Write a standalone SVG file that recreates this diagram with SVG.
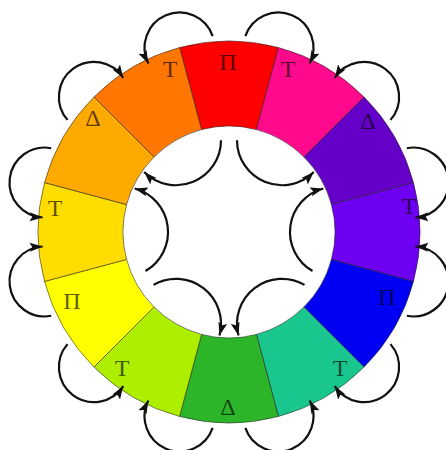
<svg xmlns="http://www.w3.org/2000/svg" width="446" height="450" viewBox="0 0 446 450">
<defs>
<style>
.seg{stroke:#222;stroke-opacity:0.7;stroke-width:0.8}
.arr{fill:none;stroke:#111;stroke-width:2.2;marker-end:url(#ah)}
.lbl{font-family:"Liberation Serif","DejaVu Serif",serif;font-size:24px;fill:#000;fill-opacity:0.65;text-anchor:middle;dominant-baseline:central}
</style>
<marker id="ah" markerUnits="userSpaceOnUse" markerWidth="14" markerHeight="10" refX="13" refY="5" orient="auto">
<path d="M0,0.5 L13,5 L0,9.5 L2.5,5 Z" fill="#111"/>
</marker>
</defs>
<rect width="446" height="450" fill="#fff"/>
<g id="ring">
<g id="seg-red"><path class="seg" fill="#FF0000" d="M179.57,47.51 A191,191 0 0 1 278.43,47.51 L256.43,129.61 A106,106 0 0 0 201.57,129.61 Z"/><text class="lbl" x="228" y="62">Π</text></g>
<g id="seg-pink"><path class="seg" fill="#FF0A8C" d="M278.43,47.51 A191,191 0 0 1 364.06,96.94 L303.95,157.05 A106,106 0 0 0 256.43,129.61 Z"/><text class="lbl" x="288" y="69">Т</text></g>
<g id="seg-violet"><path class="seg" fill="#6400C8" d="M364.06,96.94 A191,191 0 0 1 413.49,182.57 L331.39,204.57 A106,106 0 0 0 303.95,157.05 Z"/><text class="lbl" x="368" y="121">Δ</text></g>
<g id="seg-purple"><path class="seg" fill="#6E00F2" d="M413.49,182.57 A191,191 0 0 1 413.49,281.43 L331.39,259.43 A106,106 0 0 0 331.39,204.57 Z"/><text class="lbl" x="409" y="206">Т</text></g>
<g id="seg-blue"><path class="seg" fill="#0000F5" d="M413.49,281.43 A191,191 0 0 1 364.06,367.06 L303.95,306.95 A106,106 0 0 0 331.39,259.43 Z"/><text class="lbl" x="387" y="297">Π</text></g>
<g id="seg-teal"><path class="seg" fill="#19C68E" d="M364.06,367.06 A191,191 0 0 1 278.43,416.49 L256.43,334.39 A106,106 0 0 0 303.95,306.95 Z"/><text class="lbl" x="340" y="368">Т</text></g>
<g id="seg-green"><path class="seg" fill="#2DB52A" d="M278.43,416.49 A191,191 0 0 1 179.57,416.49 L201.57,334.39 A106,106 0 0 0 256.43,334.39 Z"/><text class="lbl" x="228" y="407">Δ</text></g>
<g id="seg-yellowgreen"><path class="seg" fill="#AEEF00" d="M179.57,416.49 A191,191 0 0 1 93.94,367.06 L154.05,306.95 A106,106 0 0 0 201.57,334.39 Z"/><text class="lbl" x="122" y="368">Т</text></g>
<g id="seg-yellow"><path class="seg" fill="#FFFF00" d="M93.94,367.06 A191,191 0 0 1 44.51,281.43 L126.61,259.43 A106,106 0 0 0 154.05,306.95 Z"/><text class="lbl" x="72" y="301">Π</text></g>
<g id="seg-golden"><path class="seg" fill="#FFDD00" d="M44.51,281.43 A191,191 0 0 1 44.51,182.57 L126.61,204.57 A106,106 0 0 0 126.61,259.43 Z"/><text class="lbl" x="55" y="208">Т</text></g>
<g id="seg-orangeyellow"><path class="seg" fill="#FFAA00" d="M44.51,182.57 A191,191 0 0 1 93.94,96.94 L154.05,157.05 A106,106 0 0 0 126.61,204.57 Z"/><text class="lbl" x="93" y="118">Δ</text></g>
<g id="seg-orange"><path class="seg" fill="#FF7700" d="M93.94,96.94 A191,191 0 0 1 179.57,47.51 L201.57,129.61 A106,106 0 0 0 154.05,157.05 Z"/><text class="lbl" x="170" y="69">Т</text></g>
</g>
<g id="connectors">
<path class="arr" d="M212.66,36.12 A35,35 0 1 0 148.38,63.40"/>
<path class="arr" d="M245.34,36.12 A35,35 0 1 1 309.62,63.40"/>
<path class="arr" d="M390.47,119.90 A35,35 0 1 0 334.71,77.88"/>
<path class="arr" d="M406.81,148.21 A35,35 0 1 1 415.32,217.52"/>
<path class="arr" d="M406.81,315.79 A35,35 0 1 0 415.32,246.48"/>
<path class="arr" d="M390.47,344.10 A35,35 0 1 1 334.71,386.12"/>
<path class="arr" d="M245.34,427.88 A35,35 0 1 0 309.62,400.60"/>
<path class="arr" d="M212.66,427.88 A35,35 0 1 1 148.38,400.60"/>
<path class="arr" d="M67.53,344.10 A35,35 0 1 0 123.29,386.12"/>
<path class="arr" d="M51.19,315.79 A35,35 0 1 1 42.68,246.48"/>
<path class="arr" d="M51.19,148.21 A35,35 0 1 0 42.68,217.52"/>
<path class="arr" d="M67.53,119.90 A35,35 0 1 1 123.29,77.88"/>
<path class="arr" d="M221,140.20 A45,45 0 0 1 144.18,172.02"/>
<path class="arr" d="M237,140.20 A45,45 0 0 0 313.82,172.02"/>
<path class="arr" d="M312.5,270.97 A45,45 0 0 1 323.35,188.53"/>
<path class="arr" d="M304.5,284.83 A45,45 0 0 0 238.53,335.45"/>
<path class="arr" d="M153.5,284.83 A45,45 0 0 1 219.47,335.45"/>
<path class="arr" d="M145.5,270.97 A45,45 0 0 0 134.65,188.53"/>
</g>
</svg>
